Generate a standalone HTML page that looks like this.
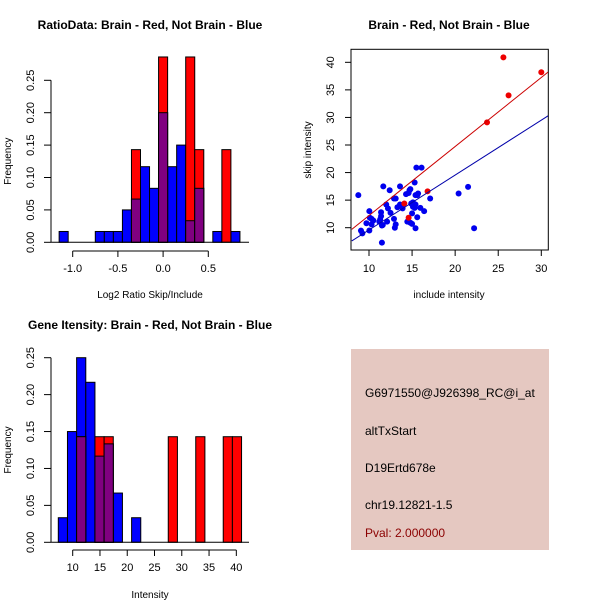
<!DOCTYPE html>
<html><head><meta charset="utf-8"><style>
html,body{margin:0;padding:0;background:#fff}
svg{display:block;font-family:"Liberation Sans",sans-serif}
</style></head><body>
<svg id="s" width="600" height="600">
<rect x="0" y="0" width="600" height="600" fill="#fff"/>
<g>
<rect x="351" y="349" width="198" height="201" fill="#e5c8c1"/>
<text x="365" y="397" font-size="12" fill="#000">G6971550@J926398_RC@i_at</text>
<text x="365" y="435" font-size="12" fill="#000">altTxStart</text>
<text x="365" y="472" font-size="12" fill="#000">D19Ertd678e</text>
<text x="365" y="509" font-size="12" fill="#000">chr19.12821-1.5</text>
<text x="365" y="537" font-size="12" fill="#8b0000">Pval: 2.000000</text>
</g>
</svg>
<script>
// ---- Ratio histogram data ----
const ratioBinCenters = [-1.1,-1.0,-0.9,-0.8,-0.7,-0.6,-0.5,-0.4,-0.3,-0.2,-0.1,0.0,0.1,0.2,0.3,0.4,0.5,0.6,0.7,0.8];
const ratioBlue = [0.0167,0,0,0,0.0167,0.0167,0.0167,0.05,0.0667,0.1167,0.0833,0.2,0.1167,0.15,0.0333,0.0833,0,0.0167,0,0.0167];
const ratioRed  = [0,0,0,0,0,0,0,0,0.143,0,0,0.286,0,0,0.286,0.143,0,0,0.143,0];
const ratioXTicks = [-1.0,-0.5,0.0,0.5];
const ratioXTickLabels = ["-1.0","-0.5","0.0","0.5"];
const freqTicks = [0,0.05,0.10,0.15,0.20,0.25];
const freqTickLabels = ["0.00","0.05","0.10","0.15","0.20","0.25"];
// ---- Intensity histogram data ----
const intStart = 7.36, intWidth = 1.68;
const intBlue = [0.0333,0.15,0.25,0.2167,0.1167,0.1333,0.0667,0,0.0333,0,0,0,0,0,0,0,0,0,0,0];
const intRed  = [0,0,0.143,0,0.143,0.143,0,0,0,0,0,0,0.143,0,0,0.143,0,0,0.143,0.143];
const intXTicks = [10,15,20,25,30,35,40];
// ---- Scatter data ----
const blueX = [8.76,9.07,9.23,9.7,10.04,10.04,10.1,10.3,10.5,10.3,11.4,11.4,11.3,11.5,11.6,11.2,11.66,11.5,12.0,12.2,12.4,12.1,12.5,12.9,13.1,12.9,13.0,13.1,13.3,13.6,13.9,13.6,14.3,14.6,14.7,14.8,14.45,14.8,15.0,15.0,14.9,15.1,15.1,15.3,15.4,15.3,15.5,16.1,15.4,15.6,15.7,15.4,15.6,15.96,16.4,17.1,20.4,21.5,22.2];
const blueY = [15.9,9.46,8.97,10.8,13.0,9.5,11.8,11.6,11.3,10.6,12.8,12.1,11.5,10.4,10.5,11.1,17.5,7.3,14.2,13.5,16.8,11.1,12.7,15.3,15.3,11.6,10.0,10.6,13.7,14.2,13.5,17.5,16.1,16.3,16.8,17.0,11.1,10.9,10.7,12.6,14.4,14.6,13.8,13.6,14.2,18.2,20.9,20.9,15.9,15.9,16.2,9.9,11.9,13.6,13.0,15.3,16.2,17.4,9.9];
const redX = [14.1,14.6,16.8,23.7,25.6,26.2,30.0];
const redY = [14.4,11.8,16.6,29.1,40.9,34.0,38.2];
const redLine = [[8,9.7],[31,38.5]];
const blueLine = [[8,7.6],[31,30.5]];
const scXTicks = [10,15,20,25,30];
const scYTicks = [10,15,20,25,30,35,40];

const svg = document.getElementById('s');
const NS = 'http://www.w3.org/2000/svg';
function el(tag, attrs, parent){const e=document.createElementNS(NS,tag);for(const k in attrs)e.setAttribute(k,attrs[k]);(parent||svg).appendChild(e);return e;}
function txt(x,y,s,attrs,parent){const t=el('text',Object.assign({x:x,y:y,'font-size':11,'text-anchor':'middle',fill:'#000'},attrs||{}),parent);t.textContent=s;return t;}

const p1x = v => 163.1 + v*90.4;
const p1y = v => 242.3 - v*648;
function histGroup(name, yfn, binL, binR, blue, red, xAxisY, xticks, xlabels, xfn, xtitle, title, titleY, xtitleY){
  const g = el('g',{});
  
  
  for(let i=0;i<blue.length;i++){
    const l=binL(i), r=binR(i);
    if(blue[i]>0){const b=el('rect',{x:l,y:yfn(blue[i]),width:r-l,height:yfn(0)-yfn(blue[i]),fill:'#0000ff',stroke:'#000','stroke-width':1},g);
      
      }
  }
  for(let i=0;i<red.length;i++){
    const l=binL(i), r=binR(i);
    if(red[i]>0){const b=el('rect',{x:l,y:yfn(red[i]),width:r-l,height:yfn(0)-yfn(red[i]),fill:'#ff0000',stroke:'#000','stroke-width':1},g);
      
      }
    if(red[i]>0&&blue[i]>0){const m=Math.min(red[i],blue[i]);
      const b=el('rect',{x:l,y:yfn(m),width:r-l,height:yfn(0)-yfn(m),fill:'#800080',stroke:'#000','stroke-width':1},g);
      
      }
  }
  const ya=el('line',{x1:51,x2:51,y1:yfn(0),y2:yfn(0.25),stroke:'#000'},g);
  
  
  freqTicks.forEach((t,i)=>{
    el('line',{x1:44,x2:51,y1:yfn(t),y2:yfn(t),stroke:'#000'},g);
    const lab=txt(34,yfn(t),freqTickLabels[i],{transform:`rotate(-90 34 ${yfn(t)})`},g);
    
    
  });
  el('line',{x1:51,x2:249,y1:yfn(0),y2:yfn(0),stroke:'#000'},g);
  el('line',{x1:xfn(xticks[0]),x2:xfn(xticks[xticks.length-1]),y1:xAxisY,y2:xAxisY,stroke:'#000'},g);
  xticks.forEach((t,i)=>{
    el('line',{x1:xfn(t),x2:xfn(t),y1:xAxisY,y2:xAxisY+6,stroke:'#000'},g);
    const lab=txt(xfn(t),xAxisY+21,xlabels[i],{},g);
    
    
  });
  const xt=txt(150,xtitleY,xtitle,{'font-size':10},g);
  
  
  const ytY=(yfn(0)+yfn(0.25))/2;
  const yt=txt(11,ytY,'Frequency',{'font-size':10,transform:`rotate(-90 11 ${ytY})`},g);
  
  
  const tt=txt(150,titleY,title,{'font-size':12,'font-weight':'bold'},g);
  
  
}
histGroup('ratio-histogram', p1y, i=>p1x(ratioBinCenters[i]-0.05), i=>p1x(ratioBinCenters[i]+0.05),
  ratioBlue, ratioRed, 251, ratioXTicks, ratioXTickLabels, p1x, 'Log2 Ratio Skip/Include',
  'RatioData: Brain - Red, Not Brain - Blue', 29, 298);

const p2x = v => 72.7 + (v-10)*5.454;
const p2y = v => 542.3 - v*738.4;
histGroup('intensity-histogram', p2y, i=>p2x(intStart+i*intWidth), i=>p2x(intStart+(i+1)*intWidth),
  intBlue, intRed, 550, intXTicks, intXTicks.map(String), p2x, 'Intensity',
  'Gene Itensity: Brain - Red, Not Brain - Blue', 329, 598);

const sx = v => 369 + (v-10)*8.615;
const sy = v => 227.7 - (v-10)*5.513;
const sg = el('g',{});


const cp=el('clipPath',{id:'cp'},sg); el('rect',{x:351,y:49,width:197,height:201},cp);
const box=el('rect',{x:351,y:49.3,width:197.3,height:200.7,fill:'none',stroke:'#000'},sg);


blueX.forEach((x,i)=>{const c=el('circle',{cx:sx(x),cy:sy(blueY[i]),r:3,fill:'#0000ee'},sg);
  
  });
redX.forEach((x,i)=>{const c=el('circle',{cx:sx(x),cy:sy(redY[i]),r:3,fill:'#ee0000'},sg);
  
  });
const rl=el('line',{x1:sx(redLine[0][0]),y1:sy(redLine[0][1]),x2:sx(redLine[1][0]),y2:sy(redLine[1][1]),stroke:'#cc0000','clip-path':'url(#cp)'},sg);


const bl=el('line',{x1:sx(blueLine[0][0]),y1:sy(blueLine[0][1]),x2:sx(blueLine[1][0]),y2:sy(blueLine[1][1]),stroke:'#0000aa','clip-path':'url(#cp)'},sg);


scXTicks.forEach(t=>{el('line',{x1:sx(t),x2:sx(t),y1:250,y2:256,stroke:'#000'},sg);
  const l=txt(sx(t),272,String(t),{},sg);
  
  });
scYTicks.forEach(t=>{el('line',{x1:345,x2:351,y1:sy(t),y2:sy(t),stroke:'#000'},sg);
  const l=txt(334,sy(t),String(t),{transform:`rotate(-90 334 ${sy(t)})`},sg);
  
  });
const sxt=txt(449,298,'include intensity',{'font-size':10},sg);


const syt=txt(311,150,'skip intensity',{'font-size':10,transform:'rotate(-90 311 150)'},sg);


const stt=txt(449,29,'Brain - Red, Not Brain - Blue',{'font-size':12,'font-weight':'bold'},sg);


</script>
</body></html>
